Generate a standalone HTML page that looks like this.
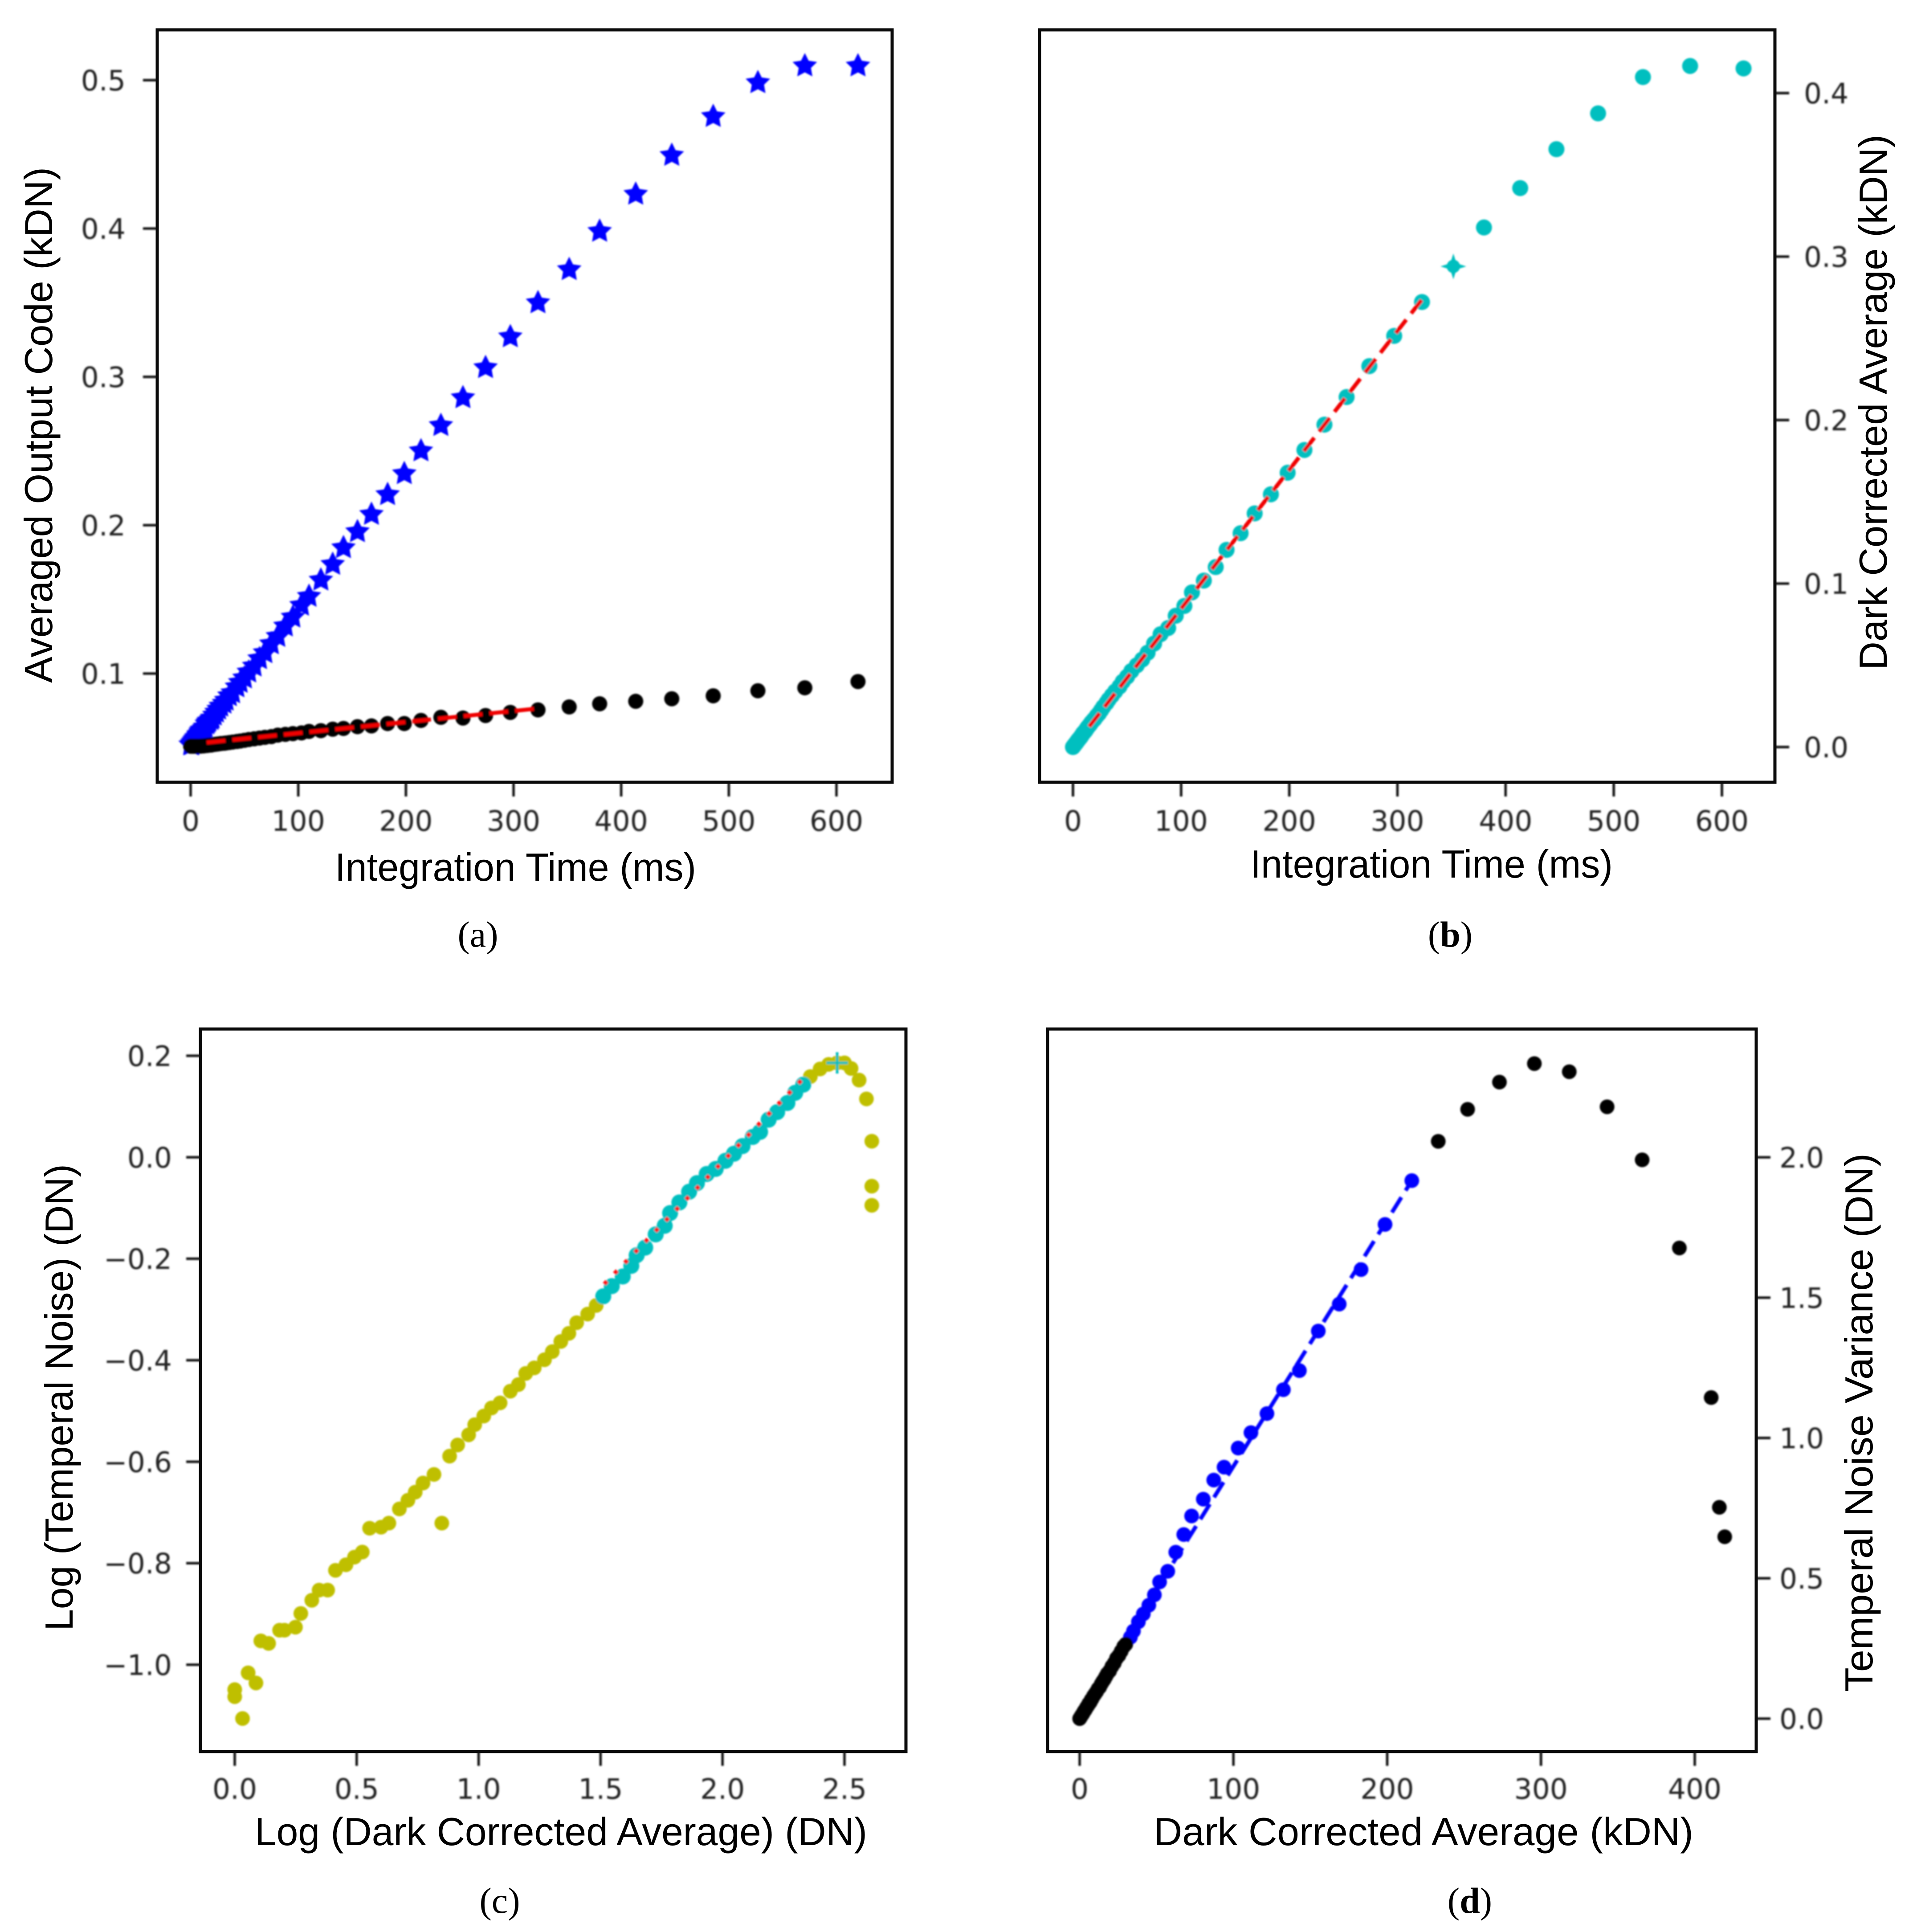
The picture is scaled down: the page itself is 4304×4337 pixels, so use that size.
<!DOCTYPE html>
<html lang="en">
<head>
<meta charset="utf-8">
<title>Sensor characterization charts</title>
<style>
html,body{margin:0;padding:0;background:#fff;width:4304px;height:4337px;overflow:hidden}
svg{position:absolute;left:0;top:0;display:block}
.tick-text{font-family:"DejaVu Sans","Liberation Sans",sans-serif;font-size:63px;fill:#222}
.axis-title{font-family:"Liberation Sans",sans-serif;font-size:88px;fill:#000}
.caption{font-family:"Liberation Serif",serif;font-size:82px;fill:#000}
.frame{fill:none;stroke:#0a0a0a;stroke-width:7}
</style>
</head>
<body>
<svg xmlns="http://www.w3.org/2000/svg" width="4304" height="4337" viewBox="0 0 4304 4337">
<defs><filter id="soft" x="-5%" y="-5%" width="110%" height="110%"><feGaussianBlur stdDeviation="1.8"/></filter></defs>
<rect width="4304" height="4337" fill="#fff"/>

<g>
  <g id="plot-a" filter="url(#soft)"></g>
  <g id="axes-a" filter="url(#soft)"></g>
  <rect class="frame" x="353" y="67" width="1650" height="1689"/>
  <text class="axis-title" x="752" y="1977" textLength="811" lengthAdjust="spacingAndGlyphs">Integration Time (ms)</text>
  <text class="axis-title" transform="translate(117,1533) rotate(-90)" textLength="1158" lengthAdjust="spacingAndGlyphs">Averaged Output Code (kDN)</text>
  <text class="caption" x="1073" y="2125" text-anchor="middle">(<tspan>a</tspan>)</text>
</g>

<g>
  <g id="plot-b" filter="url(#soft)"></g>
  <g id="axes-b" filter="url(#soft)"></g>
  <rect class="frame" x="2334" y="67" width="1651" height="1689"/>
  <text class="axis-title" x="2807" y="1970" textLength="814" lengthAdjust="spacingAndGlyphs">Integration Time (ms)</text>
  <text class="axis-title" transform="translate(4236,1504) rotate(-90)" textLength="1202" lengthAdjust="spacingAndGlyphs">Dark Corrected Average (kDN)</text>
  <text class="caption" x="3256" y="2125" text-anchor="middle">(<tspan font-weight="bold">b</tspan>)</text>
</g>

<g>
  <g id="plot-c" filter="url(#soft)"></g>
  <g id="axes-c" filter="url(#soft)"></g>
  <rect class="frame" x="450" y="2310" width="1584" height="1622"/>
  <text class="axis-title" x="572" y="4142" textLength="1375" lengthAdjust="spacingAndGlyphs">Log (Dark Corrected Average) (DN)</text>
  <text class="axis-title" transform="translate(163,3661) rotate(-90)" textLength="1048" lengthAdjust="spacingAndGlyphs">Log (Temperal Noise) (DN)</text>
  <text class="caption" x="1122" y="4294" text-anchor="middle">(<tspan>c</tspan>)</text>
</g>

<g>
  <g id="plot-d" filter="url(#soft)"></g>
  <g id="axes-d" filter="url(#soft)"></g>
  <rect class="frame" x="2352" y="2310" width="1591" height="1622"/>
  <text class="axis-title" x="2590" y="4142" textLength="1212" lengthAdjust="spacingAndGlyphs">Dark Corrected Average (kDN)</text>
  <text class="axis-title" transform="translate(4204,3798) rotate(-90)" textLength="1209" lengthAdjust="spacingAndGlyphs">Temperal Noise Variance (DN)</text>
  <text class="caption" x="3300" y="4294" text-anchor="middle">(<tspan font-weight="bold">d</tspan>)</text>
</g>
</svg>

<script>
// ---------- Data ----------
const timeMs = [620,570.6,527,485.5,447,413.5,380,351.7,322.7,297,274,253,232.5,214,198.5,183,168,155,142,132,121,110,103,95,88,81,75,69,64,59,54,50,46,43,39,36,33,31,28,26,24,22,20,19,17,16,15,13.5,12.5,11.5,10.5,9.5,9,8,7.5,7,6,5.5,5,4.5,4,3.5,3,2.5,2,1.5,1,0.5,0];

const lightOutputKdn = [.5096,.5096,.4983,.4755,.4493,.4231,.3981,.3723,.3499,.327,.3062,.2859,.2672,.2501,.2347,.2206,.2073,.1956,.1848,.1736,.163,.152,.146,.138,.132,.125,.12,.114,.11,.105,.101,.097,.094,.091,.087,.085,.082,.08,.078,.076,.074,.072,.07,.069,.068,.067,.066,.064,.063,.062,.062,.061,.06,.059,.059,.058,.057,.057,.056,.056,.055,.055,.054,.054,.053,.053,.052,.052,.052];

const darkOutputKdn = [.0946,.0904,.0884,.085,.083,.0813,.0796,.0775,.0755,.0738,.0717,.07,.0705,.0684,.0663,.0663,.0647,.0642,.063,.0625,.0615,.061,.06,.0595,.059,.0585,.0575,.057,.0565,.056,.0555,.055,.0545,.0542,.0538,.0535,.0532,.053,.0528,.0526,.0524,.0522,.052,.0518,.0517,.0516,.0515,.0514,.0513,.0512,.0512,.0511,.0511,.051,.051,.051,.051,.051,.051,.051,.051,.051,.051,.051,.051,.051,.051,.051,.051];

const darkFitTime = [15,323];
const darkFitKdn = [.0535,.0765];

const correctedKdn = [.4151,.4166,.4098,.3876,.3657,.3419,.3178,.294,.2722,.2515,.233,.2141,.1972,.1817,.1678,.1546,.1429,.1308,.1206,.1101,.1018,.0946,.0863,.0803,.0728,.069,.0633,.0577,.0535,.05,.0465,.043,.04,.037,.034,.0315,.029,.027,.0245,.0225,.0205,.019,.0172,.0165,.015,.014,.0132,.012,.011,.01,.0092,.0085,.008,.007,.0065,.006,.0052,.0048,.0044,.004,.0035,.003,.0026,.0022,.0017,.0013,.0009,.0004,0];

const saturationTime = [351.7];
const saturationKdn = [.294];
const correctedFitTime = [15,323];
const correctedFitKdn = [.0125,.274];

const logSignalAll = [2.612,2.612,2.612,2.59,2.56,2.527,2.5,2.47,2.435,2.4,2.36,1.482,1.447,1.402,1.37,1.337,1.302,1.27,1.228,1.193,1.163,1.13,1.088,1.053,1.021,.984,.959,.914,.881,.817,.772,.74,.71,.675,.849,.632,.6,.553,.523,.491,.456,.413,.381,.346,.316,.271,.249,.204,.184,.139,.107,.087,.055,.032,0,0];
const logNoiseAll = [-.0947,-.057,.0316,.115,.152,.175,.186,.186,.183,.174,.159,-.292,-.309,-.326,-.347,-.363,-.383,-.399,-.415,-.426,-.448,-.461,-.484,-.494,-.51,-.527,-.547,-.567,-.589,-.625,-.642,-.66,-.676,-.693,-.721,-.721,-.729,-.731,-.778,-.788,-.803,-.814,-.853,-.853,-.873,-.899,-.926,-.932,-.932,-.958,-.953,-1.036,-1.016,-1.106,-1.049,-1.063];

const logSignalLinear = [2.331,2.298,2.266,2.224,2.189,2.154,2.124,2.082,2.047,2.012,1.972,1.935,1.895,1.863,1.823,1.785,1.763,1.726,1.683,1.648,1.626,1.591,1.546,1.511];
const logNoiseLinear = [.143,.127,.107,.089,.074,.05,.04,.022,.007,-.007,-.023,-.033,-.051,-.068,-.089,-.11,-.135,-.152,-.178,-.193,-.214,-.235,-.254,-.274];

const logFitSignal = [1.515,2.33];
const logFitNoise = [-.25,.155];
const logPeakSignal = [2.47];
const logPeakNoise = [.186];

const varianceSignalBlack = [419.5,416,410.7,390,365.8,343,318.4,295.7,273,252.3,233.2,30,28.7,27,25.5,24,22.5,21,19.5,18,17,16,15,14,13,12,11,10,9,8,7.5,7,6.5,6,5.5,5,4.5,4,3.5,3,2.5,2,1.5,1,.5,0];
const varianceBlack = [.648,.753,1.144,1.677,1.991,2.18,2.305,2.334,2.268,2.171,2.057,.265,.257,.24,.225,.215,.198,.186,.17,.16,.15,.14,.132,.123,.112,.106,.096,.088,.08,.07,.067,.06,.056,.054,.048,.044,.04,.035,.03,.027,.022,.017,.013,.009,.004,0];

const varianceSignalBlue = [216,198.6,183,168.8,155.2,142.9,132.5,121.8,111.4,103.1,93.9,87.2,80.4,72.8,67.7,62.5,57.3,52,48.6,45,41.4,38.2,35,33];
const varianceBlue = [1.917,1.761,1.6,1.477,1.381,1.24,1.172,1.087,1.019,.964,.896,.85,.782,.722,.656,.593,.525,.487,.441,.404,.373,.345,.312,.29];
const varianceFitSignal = [34,216];
const varianceFitValue = [.32,1.917];

const xTicksTime = [0,100,200,300,400,500,600];
const xTickLabelsTime = ["0","100","200","300","400","500","600"];
const yTicksA = [.1,.2,.3,.4,.5];
const yTickLabelsA = ["0.1","0.2","0.3","0.4","0.5"];
const yTicksB = [0,.1,.2,.3,.4];
const yTickLabelsB = ["0.0","0.1","0.2","0.3","0.4"];
const xTicksC = [0,.5,1,1.5,2,2.5];
const xTickLabelsC = ["0.0","0.5","1.0","1.5","2.0","2.5"];
const yTicksC = [-1,-.8,-.6,-.4,-.2,0,.2];
const yTickLabelsC = ["\u22121.0","\u22120.8","\u22120.6","\u22120.4","\u22120.2","0.0","0.2"];
const xTicksD = [0,100,200,300,400];
const xTickLabelsD = ["0","100","200","300","400"];
const yTicksD = [0,.5,1,1.5,2];
const yTickLabelsD = ["0.0","0.5","1.0","1.5","2.0"];

// ---------- Axis functions ----------
function linear(d0, p0, d1, p1) {
  return function (v) { return p0 + (v - d0) * (p1 - p0) / (d1 - d0); };
}
const NS = 'http://www.w3.org/2000/svg';

function drawCircles(host, xs, ys, sx, sy, color, r) {
  xs.forEach(function (x, i) {
    const el = document.createElementNS(NS, 'circle');
    
    
    el.setAttribute('cx', sx(x));
    el.setAttribute('cy', sy(ys[i]));
    el.setAttribute('r', r);
    el.setAttribute('fill', color);
    host.appendChild(el);
  });
}
function drawStars(host, xs, ys, sx, sy, color, R) {
  xs.forEach(function (x, i) {
    const cx = sx(x), cy = sy(ys[i]);
    const pts = [];
    for (let k = 0; k < 10; k++) {
      const rad = k % 2 === 0 ? R : R * 0.5;
      const ang = -Math.PI / 2 + k * Math.PI / 5;
      pts.push((cx + rad * Math.cos(ang)).toFixed(1) + ',' + (cy + rad * Math.sin(ang)).toFixed(1));
    }
    const el = document.createElementNS(NS, 'polygon');
    
    
    el.setAttribute('points', pts.join(' '));
    el.setAttribute('fill', color);
    host.appendChild(el);
  });
}
function drawFit(host, xs, ys, sx, sy, color, width, dash) {
  const el = document.createElementNS(NS, 'line');
  
  
  el.setAttribute('x1', sx(xs[0]));
  el.setAttribute('y1', sy(ys[0]));
  el.setAttribute('x2', sx(xs[1]));
  el.setAttribute('y2', sy(ys[1]));
  el.setAttribute('stroke', color);
  el.setAttribute('stroke-width', width);
  el.setAttribute('stroke-dasharray', dash);
  host.appendChild(el);
}
function drawXAxis(host, ticks, labels, sx, frameBottom, labelBaseline) {
  ticks.forEach(function (t, i) {
    const tick = document.createElementNS(NS, 'line');
    
    
    tick.setAttribute('x1', sx(t));
    tick.setAttribute('x2', sx(t));
    tick.setAttribute('y1', frameBottom);
    tick.setAttribute('y2', frameBottom + 32);
    tick.setAttribute('stroke', '#111');
    tick.setAttribute('stroke-width', 5.5);
    host.appendChild(tick);
    const text = document.createElementNS(NS, 'text');
    
    
    text.setAttribute('class', 'tick-text');
    text.setAttribute('x', sx(t));
    text.setAttribute('y', labelBaseline);
    text.setAttribute('text-anchor', 'middle');
    text.textContent = labels[i];
    host.appendChild(text);
  });
}
function drawYAxis(host, ticks, labels, sy, frameEdge, dir, labelX) {
  ticks.forEach(function (t, i) {
    const tick = document.createElementNS(NS, 'line');
    
    
    tick.setAttribute('x1', frameEdge);
    tick.setAttribute('x2', frameEdge + dir * 32);
    tick.setAttribute('y1', sy(t));
    tick.setAttribute('y2', sy(t));
    tick.setAttribute('stroke', '#111');
    tick.setAttribute('stroke-width', 5.5);
    host.appendChild(tick);
    const text = document.createElementNS(NS, 'text');
    
    
    text.setAttribute('class', 'tick-text');
    text.setAttribute('x', labelX);
    text.setAttribute('y', sy(t) + 23);
    text.setAttribute('text-anchor', dir < 0 ? 'end' : 'start');
    text.textContent = labels[i];
    host.appendChild(text);
  });
}

// ---------- Panel a ----------
(function () {
  const sx = linear(0, 428, 600, 1878), sy = linear(.1, 1512, .5, 180);
  const plot = document.getElementById('plot-a'), axes = document.getElementById('axes-a');
  drawStars(plot, timeMs, lightOutputKdn, sx, sy, '#0000ff', 29);
  drawCircles(plot, timeMs, darkOutputKdn, sx, sy, '#000000', 17);
  drawFit(plot, darkFitTime, darkFitKdn, sx, sy, '#f00000', 9, '42 16');
  drawXAxis(axes, xTicksTime, xTickLabelsTime, sx, 1756, 1865);
  drawYAxis(axes, yTicksA, yTickLabelsA, sy, 353, -1, 282);
})();

// ---------- Panel b ----------
(function () {
  const sx = linear(0, 2409, 600, 3866), sy = linear(0, 1677, .4, 209);
  const plot = document.getElementById('plot-b'), axes = document.getElementById('axes-b');
  const xs = timeMs.filter(function (t) { return t !== saturationTime[0]; });
  const ys = correctedKdn.filter(function (v, i) { return timeMs[i] !== saturationTime[0]; });
  drawCircles(plot, xs, ys, sx, sy, '#00bfbf', 18);
  drawFit(plot, correctedFitTime, correctedFitKdn, sx, sy, '#f00000', 9, '38 18');
  saturationTime.forEach(function (t, i) {
    const cx = sx(t), cy = sy(saturationKdn[i]);
    const el = document.createElementNS(NS, 'polygon');
    
    
    el.setAttribute('points', [cx, cy - 29, cx + 7, cy - 7, cx + 29, cy, cx + 7, cy + 7, cx, cy + 29, cx - 7, cy + 7, cx - 29, cy, cx - 7, cy - 7].join(' '));
    el.setAttribute('fill', '#00bfbf');
    plot.appendChild(el);
    drawCircles(plot, [t], [saturationKdn[i]], sx, sy, '#00bfbf', 15);
  });
  drawXAxis(axes, xTicksTime, xTickLabelsTime, sx, 1756, 1865);
  drawYAxis(axes, yTicksB, yTickLabelsB, sy, 3985, 1, 4050);
})();

// ---------- Panel c ----------
(function () {
  const sx = linear(0, 527, 2.5, 1896), sy = linear(-1, 3737, .2, 2370);
  const plot = document.getElementById('plot-c'), axes = document.getElementById('axes-c');
  drawCircles(plot, logSignalAll, logNoiseAll, sx, sy, '#bfbf00', 16.5);
  drawCircles(plot, logSignalLinear, logNoiseLinear, sx, sy, '#00bfbf', 18);
  drawFit(plot, logFitSignal, logFitNoise, sx, sy, '#ff1010', 9, '9 24');
  logPeakSignal.forEach(function (v, i) {
    const cx = sx(v), cy = sy(logPeakNoise[i]);
    const el = document.createElementNS(NS, 'path');
    
    
    el.setAttribute('d', 'M' + (cx - 24) + ' ' + cy + 'H' + (cx + 24) + 'M' + cx + ' ' + (cy - 24) + 'V' + (cy + 24));
    el.setAttribute('stroke', '#00bfbf');
    el.setAttribute('stroke-width', 6);
    el.setAttribute('fill', 'none');
    plot.appendChild(el);
  });
  drawXAxis(axes, xTicksC, xTickLabelsC, sx, 3932, 4038);
  drawYAxis(axes, yTicksC, yTickLabelsC, sy, 450, -1, 386);
})();

// ---------- Panel d ----------
(function () {
  const sx = linear(0, 2424, 400, 3805), sy = linear(0, 3858, 2, 2598);
  const plot = document.getElementById('plot-d'), axes = document.getElementById('axes-d');
  drawCircles(plot, varianceSignalBlue, varianceBlue, sx, sy, '#0000ff', 16.5);
  drawFit(plot, varianceFitSignal, varianceFitValue, sx, sy, '#0000ff', 9, '40 18');
  drawCircles(plot, varianceSignalBlack, varianceBlack, sx, sy, '#000000', 16.5);
  drawXAxis(axes, xTicksD, xTickLabelsD, sx, 3932, 4038);
  drawYAxis(axes, yTicksD, yTickLabelsD, sy, 3943, 1, 3995);
})();
</script>
</body>
</html>
